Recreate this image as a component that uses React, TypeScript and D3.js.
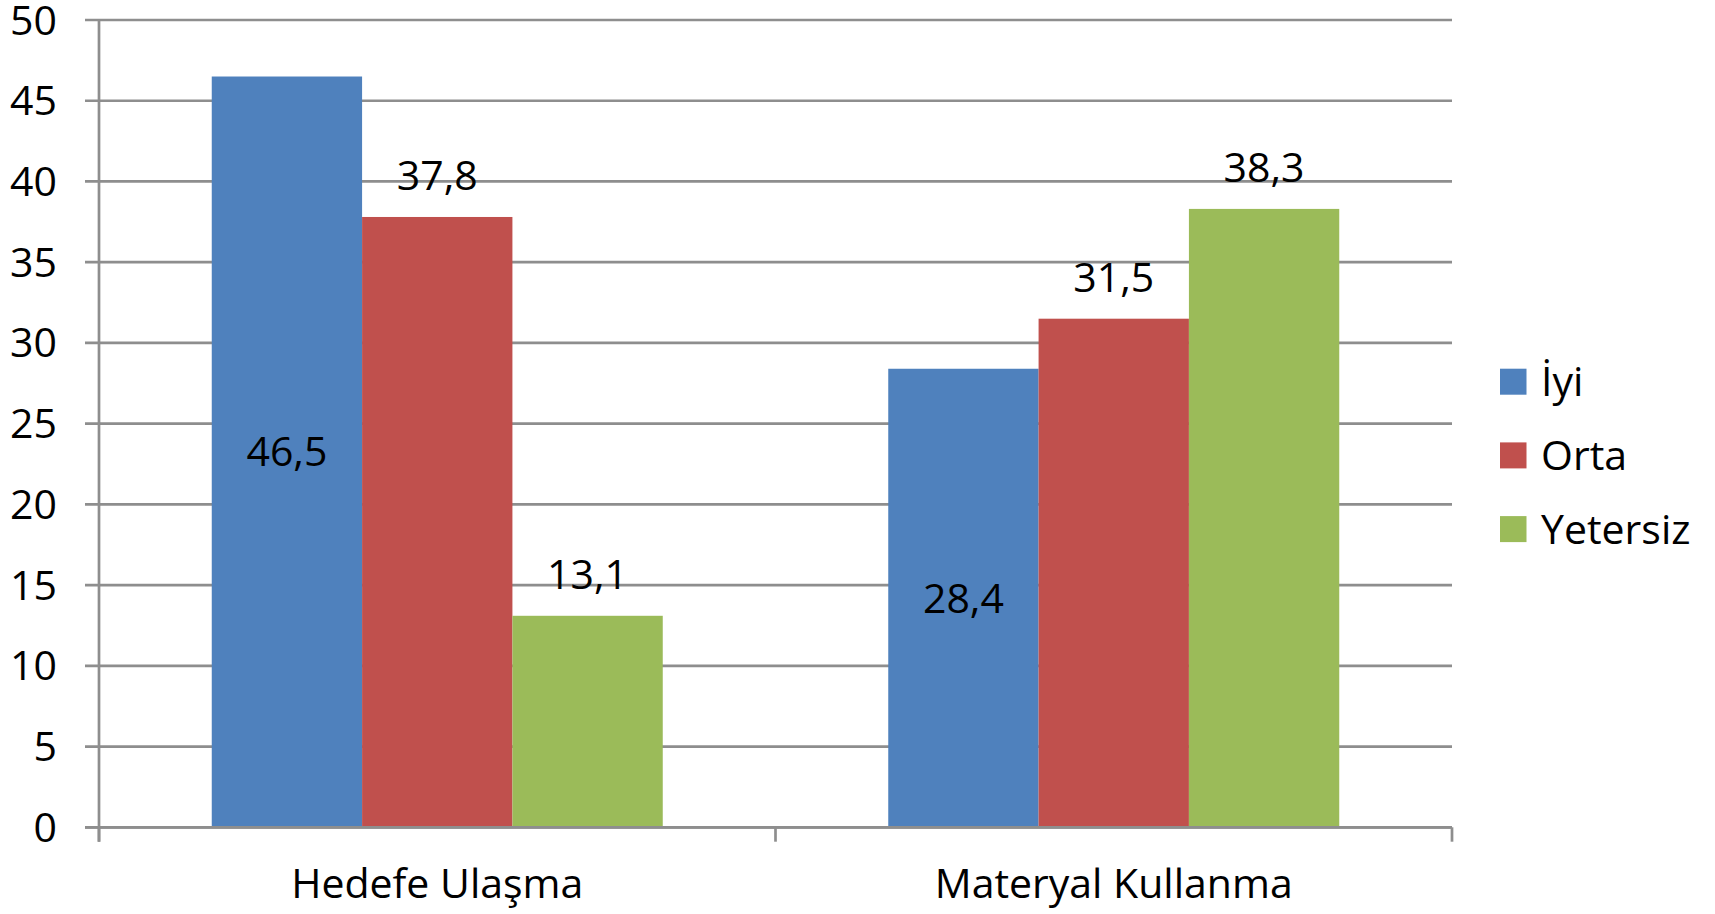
import React from "react";
import * as d3 from "d3";

const categories = ["Hedefe Ulaşma", "Materyal Kullanma"];
const seriesNames = ["İyi", "Orta", "Yetersiz"];
const iyiValues = [46.5, 28.4];
const ortaValues = [37.8, 31.5];
const yetersizValues = [13.1, 38.3];
const yTicks = [0, 5, 10, 15, 20, 25, 30, 35, 40, 45, 50];
const colors = ["#4F81BD", "#C0504D", "#9BBB59"];

const W = 1715;
const H = 914;
const FONT = "'Open Sans', sans-serif";
const FS = 41;

export default function App() {
  const seriesValues = [iyiValues, ortaValues, yetersizValues];
  const y = d3.scaleLinear().domain([0, 50]).range([827.3, 20]);
  const x0 = d3.scaleBand<string>().domain(categories).range([99, 1452]).paddingInner(0).paddingOuter(0);
  const x1 = d3.scaleBand<string>().domain(seriesNames).range([0, x0.bandwidth()]).paddingInner(0).paddingOuter(0.75);
  const grid = "#8e8e8e";
  const sw = 2.7;

  return (
    <svg width={W} height={H} style={{ position: "absolute", left: 0, top: 0, display: "block", background: "#fff" }}>
      {yTicks.map((t) => (
        <g key={"g" + t}>
          <line x1={85} x2={1452} y1={y(t)} y2={y(t)} stroke={grid} strokeWidth={sw} />
          <text x={57} y={y(t) + 14.5} textAnchor="end" fontFamily={FONT} fontSize={FS} fill="#000">
            {t}
          </text>
        </g>
      ))}
      {categories.map((c, ci) =>
        seriesNames.map((s, si) => {
          const v = seriesValues[si][ci];
          const bx = (x0(c) as number) + (x1(s) as number);
          const bw = x1.bandwidth();
          const top = y(v);
          const inside = si === 0;
          const ly = inside ? (top + y(0)) / 2 + 14.5 : top - 27;
          return (
            <g key={c + s}>
              <rect x={bx} y={top} width={bw} height={y(0) - top} fill={colors[si]} />
              <text x={bx + bw / 2} y={ly} textAnchor="middle" fontFamily={FONT} fontSize={FS} fill="#000">
                {String(v).replace(".", ",")}
              </text>
            </g>
          );
        })
      )}
      <line x1={99} x2={99} y1={y(50)} y2={841.7} stroke={grid} strokeWidth={sw} />
      <line x1={85} x2={1452} y1={y(0)} y2={y(0)} stroke={grid} strokeWidth={sw} />
      {[99, (x0(categories[1]) as number), 1452].map((tx, i) => (
        <line key={"t" + i} x1={tx} x2={tx} y1={y(0)} y2={841.7} stroke={grid} strokeWidth={sw} />
      ))}
      {categories.map((c) => (
        <text key={"c" + c} x={(x0(c) as number) + x0.bandwidth() / 2} y={898} textAnchor="middle" fontFamily={FONT} fontSize={FS} fill="#000">
          {c}
        </text>
      ))}
      {seriesNames.map((s, i) => {
        const cy = 381.7 + i * 73.7;
        return (
          <g key={"l" + s}>
            <rect x={1500} y={cy - 13} width={26.5} height={26} fill={colors[i]} />
            <text x={1541} y={cy + 14.5} fontFamily={FONT} fontSize={FS} fill="#000">
              {s}
            </text>
          </g>
        );
      })}
    </svg>
  );
}
